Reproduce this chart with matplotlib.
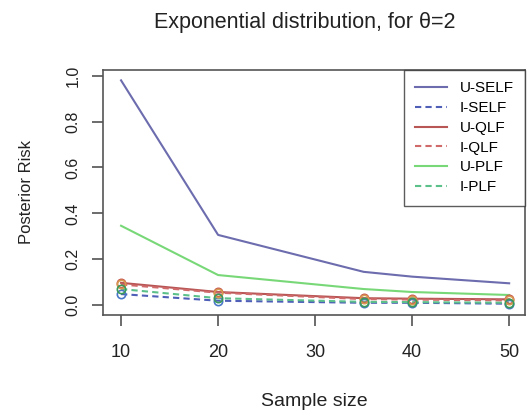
import matplotlib
matplotlib.use("Agg")
import matplotlib.pyplot as plt

plt.rcParams['font.family'] = ['Liberation Sans', 'DejaVu Sans']

sample_size = [10, 20, 35, 40, 50]
u_self = [0.98, 0.306, 0.145, 0.124, 0.095]
i_self = [0.048, 0.019, 0.010, 0.010, 0.006]
u_qlf = [0.097, 0.057, 0.030, 0.028, 0.025]
i_qlf = [0.090, 0.054, 0.026, 0.024, 0.020]
u_plf = [0.346, 0.131, 0.070, 0.057, 0.044]
i_plf = [0.070, 0.030, 0.014, 0.013, 0.010]

x_ticks = [10, 20, 30, 40, 50]
y_ticks = [0.0, 0.2, 0.4, 0.6, 0.8, 1.0]

fig = plt.figure(figsize=(5.31, 4.18), dpi=100)
ax = fig.add_axes([0.194, 0.246, 0.795, 0.587])

series = [
    ("U-SELF", u_self, "#6c6cae", "-", None),
    ("I-SELF", i_self, "#4f5fb8", "--", "#4a78c8"),
    ("U-QLF", u_qlf, "#b85555", "-", "#c85a50"),
    ("I-QLF", i_qlf, "#d06a6a", "--", "#d89a50"),
    ("U-PLF", u_plf, "#78d878", "-", None),
    ("I-PLF", i_plf, "#5cc08a", "--", "#3a9a5a"),
]

for name, vals, col, ls, mcol in series:
    line, = ax.plot(sample_size, vals, color=col, ls=ls, lw=1.5, label=name)
    if ls == "--":
        line.set_dashes((3, 2))
for name, vals, col, ls, mcol in series:
    if mcol is not None:
        ax.plot(sample_size, vals, ls="none", marker="o", ms=6,
                mfc="none", mec=mcol, mew=1.2)

ax.set_xlim(8.14, 51.65)
ax.set_ylim(-0.044, 1.026)
ax.set_xticks(x_ticks)
ax.set_yticks(y_ticks)
ax.set_yticklabels([f"{v:.1f}" for v in y_ticks], rotation=90, va="center")
ax.tick_params(direction="out", width=1.1, colors="#444444",
               labelcolor="#222222")
ax.tick_params(axis="x", length=8, pad=13, labelsize=13)
ax.tick_params(axis="y", length=8, pad=8, labelsize=11.5)
for s in ax.spines.values():
    s.set_color("#555555")
    s.set_linewidth(1.2)

ax.set_xlabel("Sample size", fontsize=14, color="#222222", va="center")
ax.xaxis.set_label_coords(0.5, -0.35)
ax.set_ylabel("Posterior Risk", fontsize=12, color="#222222", va="center")
ax.yaxis.set_label_coords(-0.182, 0.5)
fig.text(0.573, 0.947, "Exponential distribution, for \u03b8=2", ha="center",
         va="center", fontsize=15.5, color="#222222")

leg = ax.legend(loc="upper right", fontsize=11, frameon=True, fancybox=False,
                edgecolor="#333333", borderpad=0.75, handlelength=2.1,
                handletextpad=0.8, labelspacing=0.38, borderaxespad=0)
leg.get_frame().set_linewidth(1.0)

fig.savefig("out.png", dpi=100)
